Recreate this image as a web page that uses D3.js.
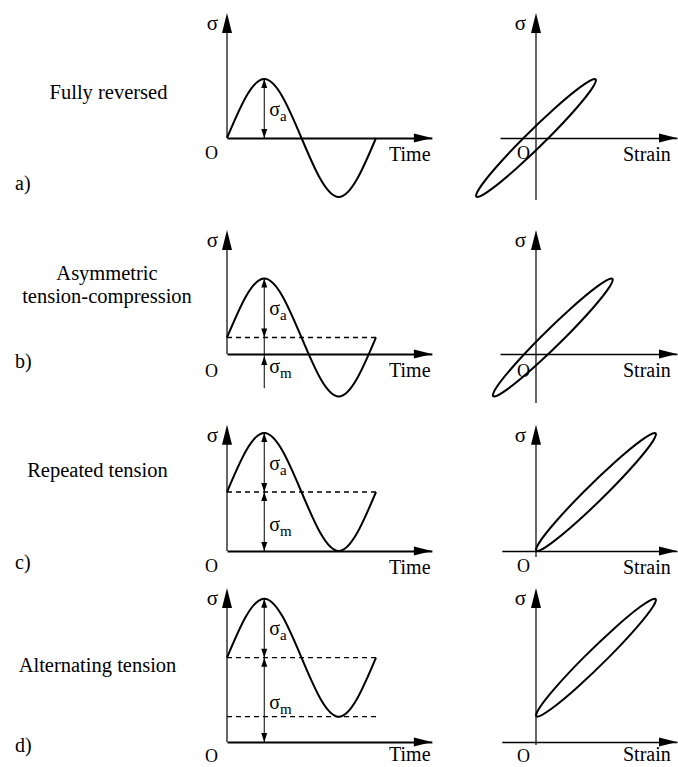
<!DOCTYPE html>
<html><head><meta charset="utf-8">
<script src="https://cdn.jsdelivr.net/npm/d3@7"></script>
<style>
html,body{margin:0;padding:0;background:#fff;}
svg text{font-family:"Liberation Serif","Times New Roman",serif;fill:#000;}
</style></head><body>
<svg id="chart" width="678" height="767"></svg>
<script>
// Loading cases, one per row
const rowLetters = ["a)", "b)", "c)", "d)"];
const rowTitles = [["Fully reversed"], ["Asymmetric", "tension-compression"], ["Repeated tension"], ["Alternating tension"]];
const meanStress = [0, 0.28, 1.0, 1.43];
const stressAmplitude = [1, 1, 1, 1];
const meanStrain = [0, 0.28, 1.0, 1.0];
const strainAmplitude = [1, 1, 1, 1];

// One load cycle: time as a fraction of the period, stress in amplitudes about the mean
const cycleTime = [0, 0.25, 0.5, 0.75, 1];
const cycleStress = [0, 1, 0, -1, 0];

// Hysteresis loop sampled every 30 degrees of the cycle (amplitude units about the mean)
const loopStress = [0, 0.5, 0.866, 1, 0.866, 0.5, 0, -0.5, -0.866, -1, -0.866, -0.5];
const loopStrain = [0.208, 0.669, 0.951, 0.978, 0.743, 0.309, -0.208, -0.669, -0.951, -0.978, -0.743, -0.309];

// Axis extents in data units
const timeAxisEnd = [1.375, 1.375, 1.375, 1.375];
const strainAxisStart = [-0.6, -0.6, -0.57, -0.57];
const strainAxisEnd = [2.35, 2.35, 2.35, 2.35];
const stressAxisTop = [2.12, 2.1, 2.14, 2.61];
const loopAxisBottom = [-1.05, -0.83, -0.1, -0.05];
const markerBottom = [0, -0.58, 0, 0];

// Layout
const L = {
  axisY: [138, 354, 551, 742],
  stressPx: 59,
  timeRange: [227, 376],
  strainRange: [536, 596],
  titleX: [108.5, 107, 97.5, 97.5],
  titleY: [[99], [280], [477], [672]],
  titleLine: 23,
  letterX: 15,
  letterY: [190, 368, 569, 752],
  axisNameDy: [23, 23, 23, 19],
  originDy: [21, 23, 21, 20]
};

const svg = d3.select("#chart");
const xTime = d3.scaleLinear().domain([0, 1]).range(L.timeRange);
const xStrain = d3.scaleLinear().domain([0, 1]).range(L.strainRange);
const yStress = L.axisY.map(a => d3.scaleLinear().domain([0, 1]).range([a, a - L.stressPx]));

function head(g, x, y, dir, len, hw) {
  let pts;
  if (dir === "up") pts = [[x, y], [x - hw, y + len], [x + hw, y + len]];
  else if (dir === "down") pts = [[x, y], [x - hw, y - len], [x + hw, y - len]];
  else pts = [[x, y], [x - len, y - hw], [x - len, y + hw]];
  g.append("path").attr("d", "M" + pts.map(p => p.join(",")).join("L") + "Z").attr("fill", "#000");
}

function subLabel(g, x, y, sub) {
  const t = g.append("text").attr("x", x).attr("y", y).attr("font-size", 20);
  t.append("tspan").text("σ");
  t.append("tspan").attr("font-size", 15).attr("dy", 5).text(sub);
}

function hAxis(g, scale, d0, d1, yPos, w) {
  const s = d3.scaleLinear().domain([d0, d1]).range([scale(d0), scale(d1)]);
  const ax = g.append("g").attr("transform", `translate(0,${yPos})`)
    .call(d3.axisBottom(s).tickValues([]).tickSizeOuter(0));
  ax.select(".domain").attr("stroke", "#000").attr("stroke-width", w);
  head(g, scale(d1), yPos, "right", 18, 4.5);
}

rowLetters.forEach((letter, i) => {
  const g = svg.append("g");
  const y = yStress[i];
  const m = meanStress[i], a = stressAmplitude[i];
  const x0 = xTime(0);

  // Row title and letter
  rowTitles[i].forEach((line, k) => {
    g.append("text").attr("x", L.titleX[i]).attr("y", L.titleY[i][0] + k * L.titleLine)
      .attr("text-anchor", "middle").attr("font-size", 20.5).text(line);
  });
  g.append("text").attr("x", L.letterX).attr("y", L.letterY[i]).attr("font-size", 20).text(letter);

  // ---- stress vs time ----
  const top = y(stressAxisTop[i]);
  g.append("line").attr("x1", x0).attr("x2", x0).attr("y1", y(0)).attr("y2", top + 18)
    .attr("stroke", "#000").attr("stroke-width", 1.2);
  head(g, x0, top, "up", 20, 5);
  hAxis(g, xTime, 0, timeAxisEnd[i], y(0), 1.8);

  // mean and minimum stress levels
  [m, m - a].filter(v => v > 1e-6).forEach(v => {
    g.append("line").attr("x1", x0).attr("x2", xTime(1)).attr("y1", y(v)).attr("y2", y(v))
      .attr("stroke", "#000").attr("stroke-width", 1.3).attr("stroke-dasharray", "5,4");
  });

  const wave = cycleTime.map((t, k) => ({ t, s: m + a * cycleStress[k] }));
  g.append("path").datum(wave)
    .attr("d", d3.line().x(d => xTime(d.t)).y(d => y(d.s)).curve(d3.curveNatural))
    .attr("fill", "none").attr("stroke", "#000").attr("stroke-width", 2);

  // amplitude and mean markers at the peak
  const xp = xTime(cycleTime[1]);
  g.append("line").attr("x1", xp).attr("x2", xp).attr("y1", y(m + a)).attr("y2", y(markerBottom[i]))
    .attr("stroke", "#000").attr("stroke-width", 1);
  head(g, xp, y(m + a), "up", 9, 3);
  head(g, xp, y(m), "down", 9, 3);
  subLabel(g, xp + 5, (y(m + a) + y(m)) / 2 + 7, "a");
  if (m > 0) {
    if (y(0) - y(m) > 30) {
      head(g, xp, y(m), "up", 9, 3);
      head(g, xp, y(0), "down", 9, 3);
      subLabel(g, xp + 5, (y(m) + y(0)) / 2 + 9, "m");
    } else {
      head(g, xp, y(0) + 2, "up", 9, 3);
      subLabel(g, xp + 5, y(0) + 19, "m");
    }
  }

  g.append("text").attr("x", x0 - 9).attr("y", top + 17).attr("text-anchor", "end")
    .attr("font-size", 21).text("σ");
  g.append("text").attr("x", x0 - 15.5).attr("y", y(0) + L.originDy[i]).attr("text-anchor", "middle")
    .attr("font-size", 18).text("O");
  g.append("text").attr("x", 389).attr("y", y(0) + L.axisNameDy[i]).attr("font-size", 20).text("Time");

  // ---- stress vs strain ----
  const e0 = xStrain(0);
  g.append("line").attr("x1", e0).attr("x2", e0).attr("y1", y(loopAxisBottom[i])).attr("y2", top + 18)
    .attr("stroke", "#000").attr("stroke-width", 1.2);
  head(g, e0, top, "up", 20, 5);
  hAxis(g, xStrain, strainAxisStart[i], strainAxisEnd[i], y(0), 1.4);

  const loop = loopStress.map((s, k) => ({
    e: meanStrain[i] + strainAmplitude[i] * loopStrain[k],
    s: m + a * s
  }));
  g.append("path").datum(loop)
    .attr("d", d3.line().x(d => xStrain(d.e)).y(d => y(d.s)).curve(d3.curveCardinalClosed.tension(0)))
    .attr("fill", "none").attr("stroke", "#000").attr("stroke-width", 2);

  g.append("text").attr("x", e0 - 10).attr("y", top + 17).attr("text-anchor", "end")
    .attr("font-size", 21).text("σ");
  g.append("text").attr("x", e0 - 12.5).attr("y", y(0) + L.originDy[i]).attr("text-anchor", "middle")
    .attr("font-size", 18).text("O");
  g.append("text").attr("x", 623).attr("y", y(0) + L.axisNameDy[i]).attr("font-size", 20).text("Strain");
});
</script>
</body></html>
